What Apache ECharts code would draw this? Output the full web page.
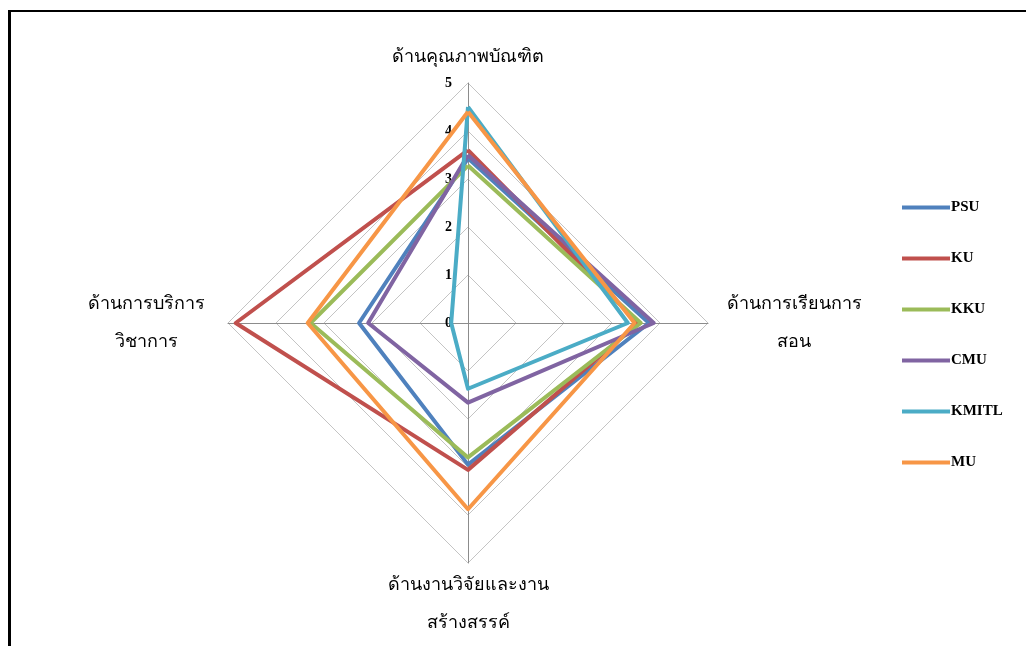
<!DOCTYPE html>
<html>
<head>
<meta charset="utf-8">
<script src="https://cdn.jsdelivr.net/npm/echarts@6/dist/echarts.min.js"></script>
<style>
  html, body { margin: 0; padding: 0; background: #fff; }
  #chart { width: 1031px; height: 646px; }
</style>
</head>
<body>
<div id="chart"></div>
<script>
// Radar axes, counter-clockwise from the top
const indicatorNames = [
  'ด้านคุณภาพบัณฑิต',
  'ด้านการบริการ\nวิชาการ',
  'ด้านงานวิจัยและงาน\nสร้างสรรค์',
  'ด้านการเรียนการ\nสอน'
];
const universities = ['PSU', 'KU', 'KKU', 'CMU', 'KMITL', 'MU'];
// Scores on each axis, in indicator order
const psu   = [3.43, 2.27, 2.95, 3.77];
const ku    = [3.60, 4.84, 3.06, 3.55];
const kku   = [3.28, 3.28, 2.80, 3.60];
const cmu   = [3.50, 2.08, 1.66, 3.87];
const kmitl = [4.50, 0.35, 1.37, 3.33];
const mu    = [4.40, 3.34, 3.88, 3.47];
const scoreMax = 5;

const seriesValues = [psu, ku, kku, cmu, kmitl, mu];
const colors = ['#4F81BD', '#C0504D', '#9BBB59', '#8064A2', '#4BACC6', '#F79646'];
const nameGaps = [6, 82, 3, 86];

const serifFont = '"Liberation Serif", "DejaVu Serif", serif';

const chart = echarts.init(document.getElementById('chart'));
chart.setOption({
  animation: false,
  color: colors,
  legend: {
    orient: 'vertical',
    left: 897,
    top: 195,
    icon: 'rect',
    itemWidth: 48,
    itemHeight: 4,
    itemGap: 36,
    data: universities,
    textStyle: { fontFamily: serifFont, fontSize: 15, fontWeight: 'bold', color: '#000', padding: [0, 0, 0, -4] }
  },
  graphic: [
    { type: 'rect', shape: { x: 8, y: 10, width: 3, height: 640 }, style: { fill: '#000' } },
    { type: 'rect', shape: { x: 8, y: 10, width: 1018, height: 2 }, style: { fill: '#000' } }
  ],
  radar: {
    center: [468, 323],
    radius: 240,
    shape: 'polygon',
    splitNumber: 5,
    indicator: indicatorNames.map((n, i) => ({
      name: n,
      min: 0,
      max: scoreMax,
      nameGap: nameGaps[i],
      axisLabel: i === 0 ? {
        show: true,
        color: '#000',
        fontFamily: serifFont,
        fontSize: 14,
        fontWeight: 'bold',
        margin: 16
      } : { show: false }
    })),
    axisName: {
      color: '#000',
      fontFamily: serifFont,
      fontSize: 18,
      align: 'center',
      lineHeight: 38
    },
    axisLine: { lineStyle: { color: '#8c8c8c', width: 1 } },
    splitLine: { lineStyle: { color: '#c4c4c4', width: 1 } },
    splitArea: { show: false },
    axisTick: { show: false },
    axisLabel: { show: false }
  },
  series: [{
    type: 'radar',
    symbol: 'none',
    lineStyle: { width: 4 },
    data: universities.map((u, i) => ({
      name: u,
      value: seriesValues[i],
      lineStyle: { width: 4, color: colors[i] },
      itemStyle: { color: colors[i] }
    }))
  }]
});
</script>
</body>
</html>
